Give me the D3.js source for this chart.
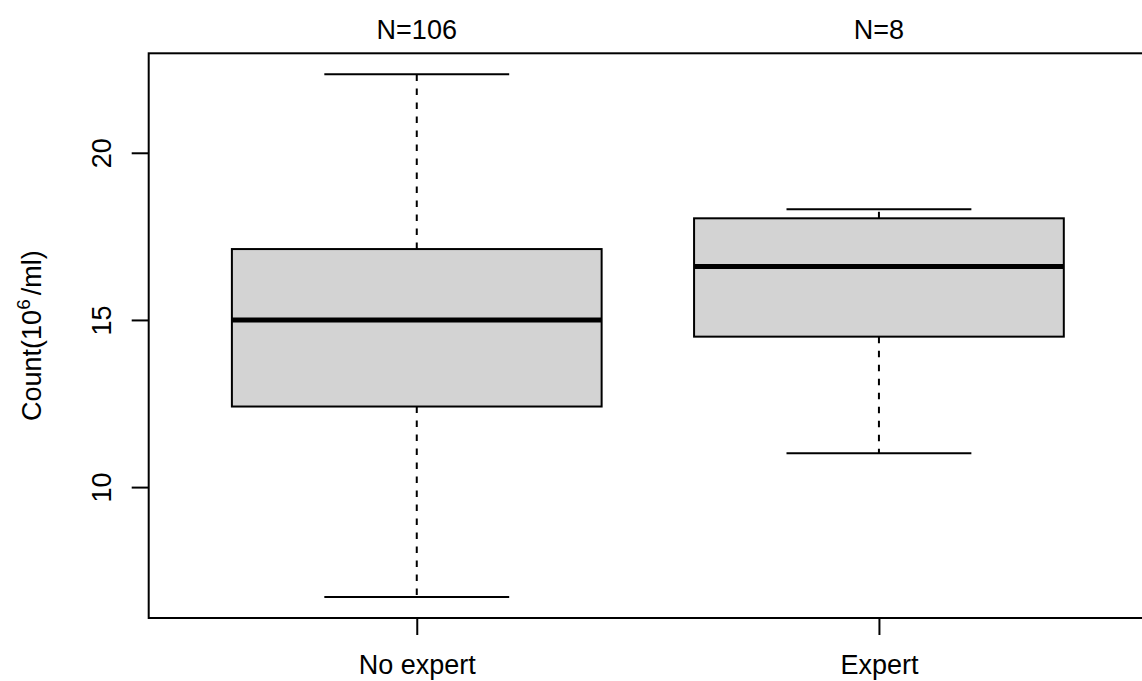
<!DOCTYPE html>
<html>
<head>
<meta charset="utf-8">
<script src="https://cdn.jsdelivr.net/npm/d3@7"></script>
<style>
  html, body { margin: 0; padding: 0; background: #fff; }
  svg { display: block; }
  text { font-family: "Liberation Sans", Arial, sans-serif; fill: #000; }
</style>
</head>
<body>
<svg id="chart" width="1142" height="681"></svg>
<script>
// ---- data ----
const categories = ["No expert", "Expert"];
const counts = [106, 8];
const lowerWhisker = [6.71, 11.01];
const q1 = [12.41, 14.50];
const median = [15.00, 16.60];
const q3 = [17.12, 18.04];
const upperWhisker = [22.35, 18.31];
const yTicks = [10, 15, 20];

// ---- layout ----
const W = 1142, H = 681;
const plotLeft = 148.7, plotRight = 1147, plotTop = 53.3, plotBottom = 618;
const fontSize = 27;

const svg = d3.select("#chart");

const dataMin = d3.min(lowerWhisker), dataMax = d3.max(upperWhisker);
const pad = (dataMax - dataMin) * 0.04;
const y = d3.scaleLinear().domain([dataMin - pad, dataMax + pad]).range([plotBottom, plotTop]);
const n = categories.length;
const xPad = n * 0.04;
const x = d3.scaleLinear().domain([0.5 - xPad, n + 0.5 + xPad]).range([plotLeft, plotRight]);

const boxes = categories.map((c, i) => ({
  cat: c, pos: i + 1, n: counts[i],
  lo: lowerWhisker[i], q1: q1[i], med: median[i], q3: q3[i], hi: upperWhisker[i]
}));

const g = svg.append("g");

// whiskers (dashed)
g.selectAll(".whisk-up").data(boxes).enter().append("line")
  .attr("x1", d => x(d.pos)).attr("x2", d => x(d.pos))
  .attr("y1", d => y(d.q3)).attr("y2", d => y(d.hi))
  .attr("stroke", "#000").attr("stroke-width", 2).attr("stroke-dasharray", "6.5,7.5");
g.selectAll(".whisk-lo").data(boxes).enter().append("line")
  .attr("x1", d => x(d.pos)).attr("x2", d => x(d.pos))
  .attr("y1", d => y(d.q1)).attr("y2", d => y(d.lo))
  .attr("stroke", "#000").attr("stroke-width", 2).attr("stroke-dasharray", "6.5,7.5");

// caps
const capHalf = 0.2, boxHalf = 0.4;
["hi", "lo"].forEach(k => {
  g.selectAll(".cap-" + k).data(boxes).enter().append("line")
    .attr("x1", d => x(d.pos - capHalf)).attr("x2", d => x(d.pos + capHalf))
    .attr("y1", d => y(d[k])).attr("y2", d => y(d[k]))
    .attr("stroke", "#000").attr("stroke-width", 2);
});

// boxes
g.selectAll(".box").data(boxes).enter().append("rect")
  .attr("x", d => x(d.pos - boxHalf))
  .attr("width", d => x(d.pos + boxHalf) - x(d.pos - boxHalf))
  .attr("y", d => y(d.q3))
  .attr("height", d => y(d.q1) - y(d.q3))
  .attr("fill", "#D3D3D3").attr("stroke", "#000").attr("stroke-width", 2);

// medians
g.selectAll(".med").data(boxes).enter().append("line")
  .attr("x1", d => x(d.pos - boxHalf)).attr("x2", d => x(d.pos + boxHalf))
  .attr("y1", d => y(d.med)).attr("y2", d => y(d.med))
  .attr("stroke", "#000").attr("stroke-width", 5);

// frame
svg.append("rect")
  .attr("x", plotLeft).attr("y", plotTop)
  .attr("width", plotRight - plotLeft).attr("height", plotBottom - plotTop)
  .attr("fill", "none").attr("stroke", "#000").attr("stroke-width", 2);

// y axis
const yAxis = svg.append("g").attr("transform", `translate(${plotLeft},0)`)
  .call(d3.axisLeft(y).tickValues(yTicks).tickSize(17).tickFormat(d3.format("d")));
yAxis.select(".domain").remove();
yAxis.selectAll(".tick line").attr("stroke", "#000").attr("stroke-width", 2);
yAxis.selectAll(".tick text")
  .attr("x", null).attr("dy", null)
  .attr("transform", "translate(-38,0) rotate(-90)")
  .attr("text-anchor", "middle")
  .style("font-size", fontSize + "px")
  .style("font-family", "'Liberation Sans', Arial, sans-serif");

// x axis
const xAxis = svg.append("g").attr("transform", `translate(0,${plotBottom})`)
  .call(d3.axisBottom(x).tickValues(boxes.map(b => b.pos)).tickSize(17)
    .tickFormat((d, i) => categories[i]));
xAxis.select(".domain").remove();
xAxis.selectAll(".tick line").attr("stroke", "#000").attr("stroke-width", 2);
xAxis.selectAll(".tick text")
  .attr("y", 55.5).attr("dy", null)
  .style("font-size", fontSize + "px")
  .style("font-family", "'Liberation Sans', Arial, sans-serif");

// N labels on top
svg.selectAll(".nlab").data(boxes).enter().append("text")
  .attr("x", d => x(d.pos)).attr("y", 39)
  .attr("text-anchor", "middle")
  .style("font-size", fontSize + "px")
  .text(d => "N=" + d.n);

// y label
const yl = svg.append("text")
  .attr("transform", `translate(41,${(plotTop + plotBottom) / 2}) rotate(-90)`)
  .attr("text-anchor", "middle")
  .style("font-size", fontSize + "px");
yl.append("tspan").text("Count(10");
yl.append("tspan").attr("dy", -11).style("font-size", (fontSize * 0.7) + "px").text("6");
yl.append("tspan").attr("dy", 11).attr("dx", 4).text("/ml)");
</script>
</body>
</html>
